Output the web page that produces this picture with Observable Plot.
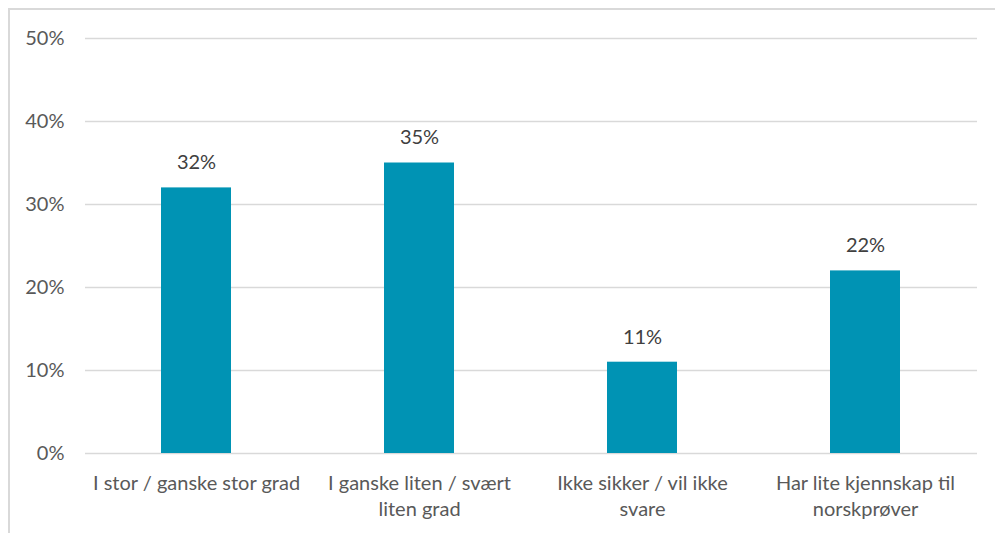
<!DOCTYPE html>
<html>
<head>
<meta charset="utf-8">
<script src="https://cdn.jsdelivr.net/npm/d3@7"></script>
<script src="https://cdn.jsdelivr.net/npm/@observablehq/plot@0.6"></script>
<style>
  html, body { margin: 0; padding: 0; background: #fff; overflow: hidden; }
  #wrap { position: relative; width: 995px; height: 533px; overflow: hidden; }
  #frame { position: absolute; left: 8px; top: 8px; width: 1000px; height: 600px; border: 2px solid #d9d9d9; box-sizing: border-box; }
  #chart { position: absolute; left: 0; top: 0; }
</style>
</head>
<body>
<div id="wrap"><div id="frame"></div><div id="chart"></div></div>
<script>
const categories = [
  "I stor / ganske stor grad",
  "I ganske liten / svært\nliten grad",
  "Ikke sikker / vil ikke\nsvare",
  "Har lite kjennskap til\nnorskprøver"
];
const values = [32, 35, 11, 22];
const yTicks = [0, 10, 20, 30, 40, 50];

const data = categories.map((c, i) => ({category: c, value: values[i]}));

const chart = Plot.plot({
  width: 995,
  height: 533,
  marginLeft: 85,
  marginRight: 18,
  marginTop: 38,
  marginBottom: 80,
  style: {fontFamily: "Lato, 'Noto Sans', sans-serif", fontSize: "20px", color: "#595959", background: "transparent"},
  x: {domain: categories, paddingInner: 0.686, paddingOuter: 0.343, label: null},
  y: {domain: [0, 50], label: null},
  marks: [
    Plot.gridY(yTicks, {stroke: "#d9d9d9", strokeOpacity: 1, strokeWidth: 1.5}),
    Plot.barY(data, {x: "category", y: "value", fill: "#0093b4"}),
    Plot.text(data, {x: "category", y: "value", text: d => d.value + "%", dy: -25, fill: "#404040", fontSize: 20}),
    Plot.axisY(yTicks, {tickSize: 0, tickPadding: 21, tickFormat: d => d + "%", fontSize: 20, fill: "#595959", label: null}),
    Plot.axisX({tickSize: 0, tickPadding: 18, fontSize: 20, fill: "#595959", label: null, lineHeight: 1.3})
  ]
});
document.getElementById("chart").appendChild(chart);
</script>
</body>
</html>
